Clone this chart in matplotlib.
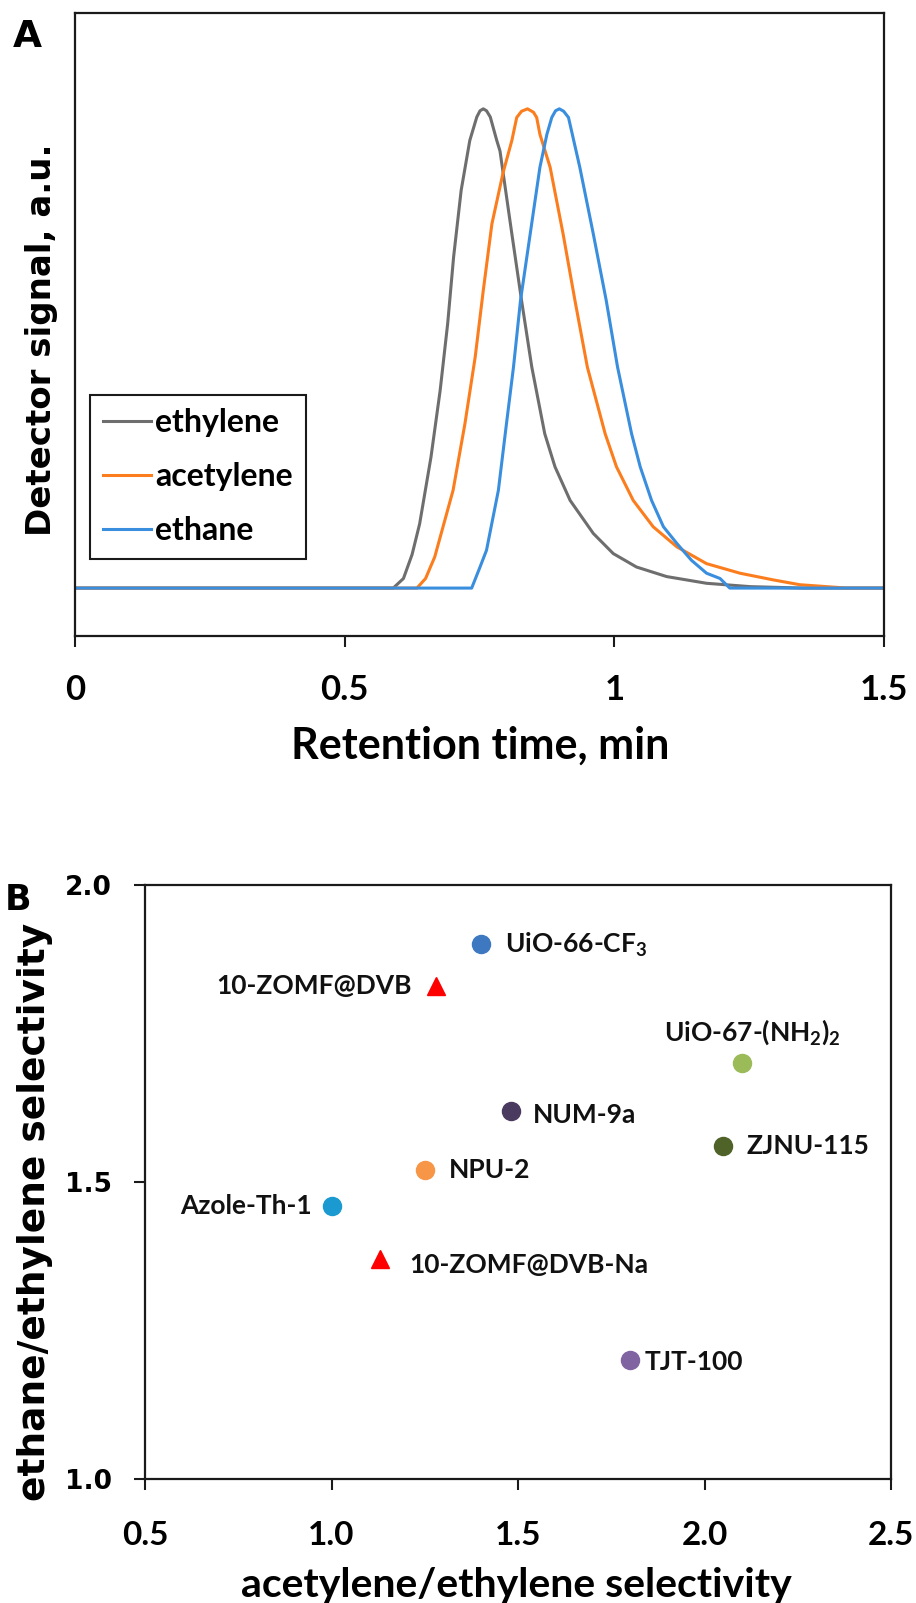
import matplotlib
matplotlib.use('Agg')
import matplotlib.pyplot as plt

# ---------------- Panel A data (chromatogram) ----------------
ethylene_t = [0.0, 0.590, 0.609, 0.625, 0.639, 0.660, 0.677, 0.691, 0.702, 0.716, 0.732,
              0.745, 0.751, 0.757, 0.763, 0.770, 0.782, 0.788, 0.810, 0.828, 0.847, 0.871,
              0.890, 0.918, 0.961, 0.998, 1.041, 1.097, 1.171, 1.252, 1.350, 1.5]
ethylene_s = [0.0, 0.0, 0.020, 0.070, 0.134, 0.273, 0.412, 0.552, 0.691, 0.830, 0.934,
              0.983, 0.996, 1.000, 0.996, 0.983, 0.934, 0.912, 0.739, 0.600, 0.461, 0.322,
              0.253, 0.183, 0.114, 0.072, 0.044, 0.024, 0.010, 0.003, 0.0, 0.0]

acetylene_t = [0.0, 0.634, 0.650, 0.667, 0.701, 0.723, 0.742, 0.757, 0.773, 0.794, 0.810,
               0.819, 0.828, 0.839, 0.850, 0.856, 0.862, 0.881, 0.905, 0.927, 0.950, 0.983,
               1.004, 1.035, 1.072, 1.116, 1.171, 1.233, 1.295, 1.344, 1.431, 1.5]
acetylene_s = [0.0, 0.0, 0.020, 0.065, 0.204, 0.343, 0.482, 0.621, 0.760, 0.868, 0.934,
               0.982, 0.995, 1.000, 0.993, 0.982, 0.947, 0.878, 0.739, 0.600, 0.461, 0.322,
               0.253, 0.183, 0.128, 0.086, 0.051, 0.031, 0.017, 0.007, 0.0, 0.0]

ethane_t = [0.0, 0.7355, 0.751, 0.763, 0.785, 0.800, 0.813, 0.826, 0.844, 0.862, 0.875,
            0.884, 0.891, 0.898, 0.906, 0.915, 0.936, 0.961, 0.985, 1.006, 1.032, 1.048,
            1.069, 1.091, 1.116, 1.143, 1.171, 1.196, 1.214, 1.5]
ethane_s = [0.0, 0.0, 0.044, 0.079, 0.204, 0.343, 0.461, 0.600, 0.739, 0.878, 0.947,
            0.982, 0.996, 1.000, 0.995, 0.982, 0.878, 0.739, 0.600, 0.461, 0.322, 0.253,
            0.183, 0.128, 0.093, 0.058, 0.031, 0.020, 0.0, 0.0]

series_names = ['ethylene', 'acetylene', 'ethane']
xticks_a = [0, 0.5, 1, 1.5]
xticklabels_a = ['0', '0.5', '1', '1.5']

# ---------------- Panel B data (selectivity map) ----------------
materials = ['UiO-66-CF$_3$', '10-ZOMF@DVB', 'UiO-67-(NH$_2$)$_2$', 'NUM-9a', 'ZJNU-115',
             'NPU-2', 'Azole-Th-1', '10-ZOMF@DVB-Na', 'TJT-100']
acet_eth_sel = [1.40, 1.28, 2.10, 1.48, 2.05, 1.25, 1.00, 1.13, 1.80]
ethane_eth_sel = [1.90, 1.83, 1.70, 1.62, 1.56, 1.52, 1.46, 1.37, 1.20]
is_triangle = [False, True, False, False, False, False, False, True, False]
xticks_b = [0.5, 1.0, 1.5, 2.0, 2.5]
yticks_b = [1.0, 1.5, 2.0]

# ---------------- styles ----------------
line_colors = ['#6e6e6e', '#fb7d1e', '#3a8ede']
point_colors = ['#3d78c0', '#ff0000', '#9bbb59', '#4a3a60', '#4f6228',
                '#f79646', '#1a9ad0', '#ff0000', '#8064a2']
# label offsets in pixels (dx, dy) and horizontal alignment
label_offsets = [(24, 0, 'left'), (-24, 0, 'right'), (11, 31, 'center'), (22, -4, 'left'),
                 (23, 0, 'left'), (24, 0, 'left'), (-20, 0, 'right'), (29, -6, 'left'),
                 (15, -2, 'left')]

plt.rcParams['mathtext.fontset'] = 'custom'
plt.rcParams['mathtext.rm'] = 'Lato:bold'
plt.rcParams['mathtext.it'] = 'Lato:bold'
plt.rcParams['mathtext.bf'] = 'Lato:bold'

CAL = 'Lato'          # Calibri-like
VER = 'DejaVu Sans'   # Verdana-like

W, H = 916, 1603
fig = plt.figure(figsize=(W / 100, H / 100), dpi=100)

def fx(px):
    return px / W

def fy(py):
    return 1 - py / H

spine_col = '#1a1a1a'

# ---------------- Panel A ----------------
axA = fig.add_axes([fx(75), fy(636), fx(884) - fx(75), fy(13) - fy(636)])
data_a = [(ethylene_t, ethylene_s), (acetylene_t, acetylene_s), (ethane_t, ethane_s)]
handles = []
for (t, s), c, n in zip(data_a, line_colors, series_names):
    h, = axA.plot(t, s, color=c, lw=2.2, label=n, solid_joinstyle='round')
    handles.append(h)
axA.set_xlim(0, 1.5)
axA.set_ylim(-0.1, 1.2)
axA.set_xticks(xticks_a)
axA.set_xticklabels(xticklabels_a, fontfamily=CAL, fontweight='bold', fontsize=25)
axA.tick_params(axis='x', direction='out', length=8, width=1.5, color=spine_col, pad=19)
axA.tick_params(axis='y', left=False, labelleft=False)
for sp in axA.spines.values():
    sp.set_linewidth(1.6)
    sp.set_color(spine_col)
leg = axA.legend(handles=handles, loc='upper left', bbox_to_anchor=(0.0185, 0.387),
                 borderaxespad=0, fancybox=False, framealpha=1, edgecolor=spine_col,
                 prop={'family': CAL, 'weight': 'bold', 'size': 23},
                 handlelength=1.5, handletextpad=0.13, labelspacing=0.78,
                 borderpad=0.42)
leg.get_frame().set_linewidth(1.5)

fig.text(fx(42), fy(340), 'Detector signal, a.u.', rotation=90, ha='center', va='center',
         fontfamily=VER, fontweight='bold', fontsize=24.5)
fig.text(fx(480), fy(746), 'Retention time, min', ha='center', va='center',
         fontfamily=CAL, fontweight='bold', fontsize=31)
fig.text(fx(27), fy(37), 'A', ha='center', va='center', fontfamily=VER,
         fontweight='bold', fontsize=27)

# ---------------- Panel B ----------------
axB = fig.add_axes([fx(145), fy(1479), fx(891) - fx(145), fy(885) - fy(1479)])
for x, y, tri, c, name, (dx, dy, ha) in zip(acet_eth_sel, ethane_eth_sel, is_triangle,
                                            point_colors, materials, label_offsets):
    if tri:
        axB.plot([x], [y], marker='^', ms=13, color=c, mec=c, ls='none')
    else:
        axB.plot([x], [y], marker='o', ms=13, color=c, mec=c, ls='none')
    axB.annotate(name, (x, y), xytext=(dx, dy), textcoords='offset pixels',
                 ha=ha, va='center', fontfamily=CAL, fontweight='bold', fontsize=19,
                 color='#111111')
axB.set_xlim(0.5, 2.5)
axB.set_ylim(1.0, 2.0)
axB.set_xticks(xticks_b)
axB.set_xticklabels([f'{v:.1f}' for v in xticks_b], fontfamily=CAL, fontweight='bold',
                    fontsize=24)
axB.set_yticks(yticks_b)
axB.set_yticklabels([f'{v:.1f}' for v in yticks_b], fontfamily=VER, fontweight='bold',
                    fontsize=19)
axB.tick_params(axis='x', direction='out', length=8, width=1.5, color=spine_col, pad=22)
axB.tick_params(axis='y', direction='out', length=8, width=1.5, color=spine_col, pad=16)
for sp in axB.spines.values():
    sp.set_linewidth(1.6)
    sp.set_color(spine_col)

fig.text(fx(35), fy(1212), 'ethane/ethylene selectivity', rotation=90, ha='center',
         va='center', fontfamily=VER, fontweight='bold', fontsize=27)
fig.text(fx(516), fy(1585), 'acetylene/ethylene selectivity', ha='center', va='center',
         fontfamily=CAL, fontweight='bold', fontsize=29.5)
fig.text(fx(18), fy(900), 'B', ha='center', va='center', fontfamily=VER,
         fontweight='bold', fontsize=25)

fig.savefig('out.png', dpi=100)
